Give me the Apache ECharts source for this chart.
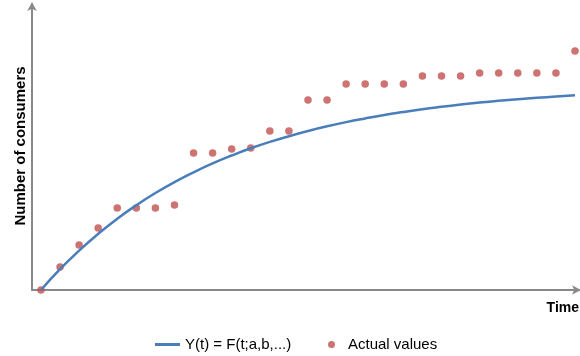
<!DOCTYPE html>
<html><head><meta charset="utf-8">
<script src="https://cdn.jsdelivr.net/npm/echarts@6/dist/echarts.min.js"></script>
<style>html,body{margin:0;padding:0;background:#fff}#c{width:580px;height:356px}</style>
</head><body><div id="c"></div>
<script>
// Time index (periods)
var periods = [0,1,2,3,4,5,6,7,8,9,10,11,12,13,14,15,16,17,18,19,20,21,22,23,24,25,26,27,28];
// Model curve Y(t) = F(t;a,b,...)
var modelValues = [0,20.8,39.4,56.2,71.3,84.8,97.0,107.9,117.7,126.6,134.5,141.7,148.1,153.8,159.0,163.7,167.9,171.6,175.0,178.0,180.8,183.2,185.4,187.4,189.2,190.8,192.2,193.5,194.7];
// Actual values
var actualValues = [0,23,45,62,82,82,82,85,137,137,141,142,159,159,190,190,206,206,206,206,214,214,214,217,217,217,217,217,239];
var seriesNames = ['Y(t) = F(t;a,b,...)', 'Actual values'];
var axisNames = ['Number of consumers', 'Time'];

var chart = echarts.init(document.getElementById('c'), null, {renderer:'canvas'});
var axisColor = '#898989';
var font = 'Liberation Sans, Arial';
chart.setOption({
  animation:false,
  backgroundColor:'#ffffff',
  grid:{left:32,right:1,top:4,bottom:66,containLabel:false},
  xAxis:{type:'value',min:-0.47,max:28.21,
    axisLine:{show:true,lineStyle:{color:axisColor,width:2},symbol:['none','arrow'],symbolSize:[7,9],symbolOffset:[0,2]},
    axisTick:{show:false},axisLabel:{show:false},splitLine:{show:false}},
  yAxis:{type:'value',min:0,max:286,
    axisLine:{show:true,onZero:false,lineStyle:{color:axisColor,width:2},symbol:['none','arrow'],symbolSize:[7,9],symbolOffset:[0,2]},
    axisTick:{show:false},axisLabel:{show:false},splitLine:{show:false}},
  legend:[
    {data:[seriesNames[0]],left:155,top:337,padding:0,itemWidth:25,itemHeight:3,icon:'rect',
     textStyle:{fontFamily:font,fontSize:15,color:'#000'}},
    {data:[seriesNames[1]],left:328,top:337,padding:0,itemWidth:7,itemHeight:7,icon:'circle',
     textStyle:{fontFamily:font,fontSize:15,color:'#000',padding:[0,0,0,8]}}
  ],
  graphic:[
    {type:'text',x:21,y:146,rotation:Math.PI/2,
     style:{text:axisNames[0],fontFamily:font,fontWeight:'bold',fontSize:15,fill:'#000',align:'center',verticalAlign:'middle'}},
    {type:'text',x:579,y:308,
     style:{text:axisNames[1],fontFamily:font,fontWeight:'bold',fontSize:14,fill:'#000',align:'right',verticalAlign:'middle'}}
  ],
  series:[
    {name:seriesNames[0],type:'line',smooth:true,symbol:'none',
     data:periods.map(function(t,i){return [t,modelValues[i]];}),
     lineStyle:{color:'#4a7ebb',width:2.5},itemStyle:{color:'#4a7ebb'}},
    {name:seriesNames[1],type:'scatter',symbol:'circle',symbolSize:7.5,
     data:periods.map(function(t,i){return [t,actualValues[i]];}),
     itemStyle:{color:'#c0504d'}}
  ]
});
</script></body></html>
